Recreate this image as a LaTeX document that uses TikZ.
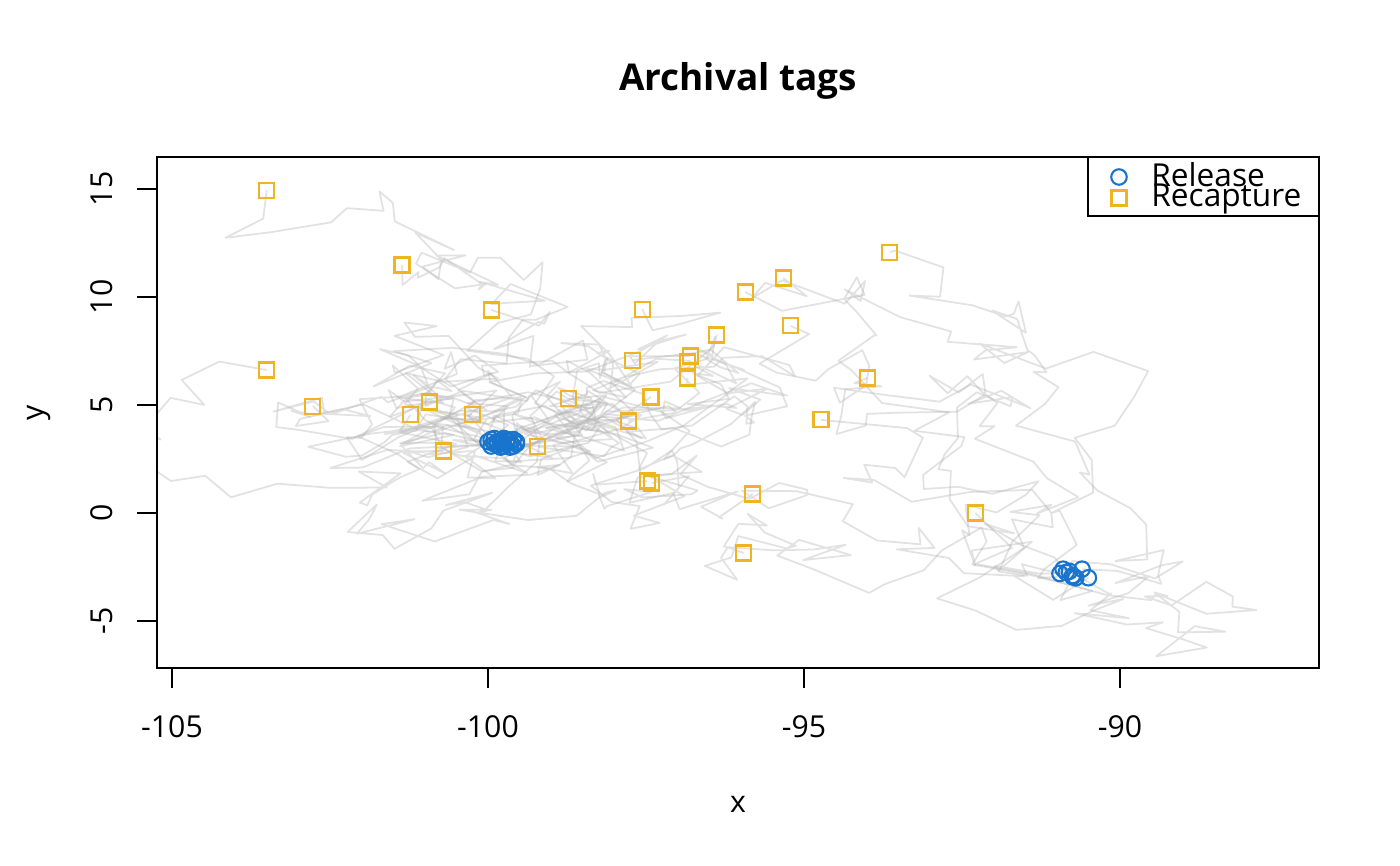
\documentclass[tikz,border=0pt]{standalone}
\usepackage{fontspec}
\setmainfont{Open Sans}
\usetikzlibrary{positioning}

\definecolor{relblue}{HTML}{1874CD}
\definecolor{recgold}{HTML}{EEB422}

% release x / release y / recapture x / recapture y
\def\tagdata{-99.95/3.40/-103.5/14.95, -99.70/3.35/-101.36/11.48, -99.85/3.15/-99.95/9.4,
  -99.60/3.10/-97.56/9.44, -99.75/3.45/-96.38/8.24, -99.90/3.20/-103.5/6.62,
  -99.65/3.30/-97.71/7.08, -99.80/3.35/-96.80/7.27, -100.0/3.30/-96.84/6.99,
  -99.55/3.20/-96.84/6.25, -99.80/3.05/-102.77/4.95, -99.70/3.20/-101.23/4.54,
  -99.90/3.45/-100.92/5.14, -99.60/3.40/-100.25/4.58, -99.75/3.10/-98.72/5.28,
  -99.85/3.30/-97.42/5.37, -99.65/3.05/-97.78/4.26, -99.95/3.10/-100.70/2.87,
  -99.70/3.40/-99.21/3.06, -99.55/3.30/-97.48/1.48, -99.80/3.25/-97.41/1.39,
  -90.90/-2.60/-95.93/10.23, -90.75/-2.90/-95.33/10.88, -90.60/-2.60/-93.64/12.08,
  -90.85/-2.75/-95.21/8.66, -90.70/-3.00/-94.0/6.25, -90.95/-2.80/-94.73/4.31,
  -90.50/-3.00/-95.81/0.88, -90.80/-2.70/-92.29/0.0, -90.75/-2.95/-95.95/-1.85}

\begin{document}
\begin{tikzpicture}[thick]

		\tikzstyle{axisfont}=[font=\fontsize{8.6}{10}\selectfont, inner sep=0pt]
		\tikzstyle{legfont}=[font=\fontsize{9}{10}\selectfont, inner sep=0pt]
		\tikzstyle{release}=[circle, draw=relblue, line width=0.6pt, minimum size=0.155cm, inner sep=0pt]
		\tikzstyle{recap}=[rectangle, draw=recgold, line width=0.6pt, minimum size=0.15cm, inner sep=0pt]
		\tikzstyle{track}=[draw=gray!60, draw opacity=0.38, line width=0.5pt, line join=round]
		\tikzstyle{frame}=[line width=0.7pt]

		\useasboundingbox (0,0) rectangle (14,8.66);

		% Title
		\node[font=\fontsize{10.5}{12}\selectfont\bfseries, anchor=base] (title) at (7.38,7.75) {Archival tags};

		% Tracks and tag positions in data coordinates
		\begin{scope}[x=0.632cm, y=0.216cm, shift={(68.08cm,3.53cm)}]
		\begin{scope}
		\clip (-105.24,-7.18) rectangle (-86.85,16.48);
		\foreach \sx/\sy/\ex/\ey [count=\i] in \tagdata {
			\pgfmathtruncatemacro\seedval{\i*131+7}
			\pgfmathsetseed{\seedval}
			\xdef\cx{\sx}\xdef\cy{\sy}
			\xdef\trackpath{(\sx,\sy)}
			\foreach \k in {1,...,32} {
				\pgfmathsetmacro\rem{33-\k}
				\pgfmathsetmacro\nx{\cx+((\ex)-(\cx))/\rem+0.9*rand*sqrt((\rem-1)/\rem)}
				\pgfmathsetmacro\ny{\cy+((\ey)-(\cy))/\rem+1.2*rand*sqrt((\rem-1)/\rem)}
				\xdef\cx{\nx}\xdef\cy{\ny}
				\xdef\trackpath{\trackpath -- (\cx,\cy)}
			}
			\edef\drawtrack{\noexpand\path[track] \trackpath;}\drawtrack
		}
		\end{scope}
		% Release and recapture points
		\foreach \sx/\sy/\ex/\ey [count=\i] in \tagdata
			\node[release] (rel\i) at (\sx,\sy) {};
		\foreach \sx/\sy/\ex/\ey [count=\i] in \tagdata
			\node[recap] (rec\i) at (\ex,\ey) {};
		\end{scope}

		% Frame and axes
		\draw[frame] (1.57,1.98) rectangle (13.19,7.09);
		\foreach \t/\xc [count=\n] in {-105/1.72,-100/4.88,-95/8.04,-90/11.20} {
			\draw[frame] (\xc,1.98) -- (\xc,1.78);
			\node[axisfont, anchor=base] (xtick\n) at (\xc,1.28) {\t};
		}
		\foreach \t/\yc [count=\n] in {-5/2.45,0/3.53,5/4.61,10/5.69,15/6.77} {
			\draw[frame] (1.57,\yc) -- (1.37,\yc);
			\node[axisfont, rotate=90, anchor=base] (ytick\n) at (1.12,\yc) {\t};
		}
		\node[axisfont, anchor=base] (xlab) at (7.38,0.53) {x};
		\node[axisfont, rotate=90, anchor=base] (ylab) at (0.43,4.535) {y};

		% Legend
		\draw[frame] (10.88,6.50) rectangle (13.19,7.09);
		\node[release] (legrel) at (11.19,6.89) {};
		\node[recap] (legrec) at (11.19,6.68) {};
		\node[legfont, anchor=base west] (legreltext) at (11.50,6.79) {Release};
		\node[legfont, anchor=base west] (legrectext) at (11.50,6.59) {Recapture};

\end{tikzpicture}
\end{document}
